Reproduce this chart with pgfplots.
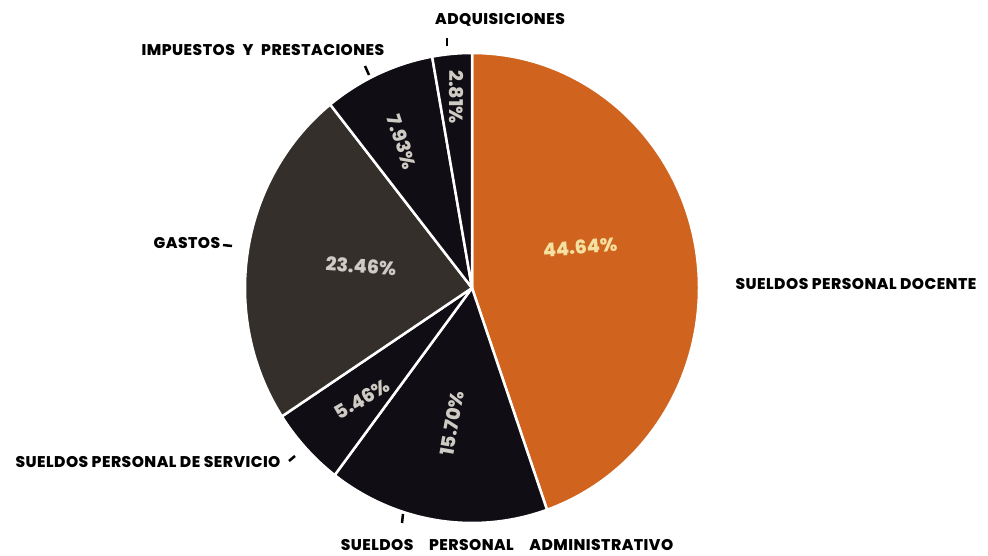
\documentclass[border=0pt]{standalone}
\usepackage{pgfplots}
\pgfplotsset{compat=1.18}
\usepackage{fontspec}
\setmainfont{Poppins}[BoldFont={Poppins ExtraBold}]
\definecolor{orng}{RGB}{208,100,30}
\definecolor{gast}{RGB}{52,47,43}
\definecolor{blk}{RGB}{16,13,20}
\definecolor{cream}{RGB}{244,224,160}
\definecolor{lgray}{RGB}{205,203,195}
% shares (percent), clockwise from 12 o'clock
\def\pA{44.64}\def\pB{15.70}\def\pC{5.46}\def\pD{23.46}\def\pE{7.93}\def\pF{2.81}
\pgfmathsetmacro\angA{90}
\pgfmathsetmacro\angB{\angA-3.6*\pA}
\pgfmathsetmacro\angC{\angB-3.6*\pB}
\pgfmathsetmacro\angD{\angC-3.6*\pC}
\pgfmathsetmacro\angE{\angD-3.6*\pD}
\pgfmathsetmacro\angF{\angE-3.6*\pE}
\pgfmathsetmacro\angG{\angF-3.6*\pF}
\def\cx{472}\def\cy{-288}\def\rx{227}\def\ry{235}
\newcommand\slice[3]{\fill[#3, draw=white, line width=2.5pt, line join=round]
  (axis cs:\cx,\cy) -- (axis cs:{\cx+\rx*cos(#1)},{\cy+\ry*sin(#1)})
  arc[start angle=#1, end angle=#2, x radius=\rx, y radius=\ry] -- cycle;}
\newcommand\lab{\fontsize{15.5}{18}\selectfont\bfseries\addfontfeatures{LetterSpace=3}}
\newcommand\pct{\fontsize{19}{21}\selectfont\bfseries}
\begin{document}
\begin{tikzpicture}
\begin{axis}[x=1pt, y=1pt, xmin=0, xmax=988, ymin=-556, ymax=0,
  hide axis, clip=false, scale only axis]
\path (axis cs:0,0) rectangle (axis cs:988,-556);
\slice{\angA}{\angB}{orng}
\slice{\angB}{\angC}{blk}
\slice{\angC}{\angD}{blk}
\slice{\angD}{\angE}{gast}
\slice{\angE}{\angF}{blk}
\slice{\angF}{\angG}{blk}
% percentages
\node[cream, rotate=5, inner sep=0pt] at (axis cs:580,-247) {\pct 44.64\%};
\node[lgray, rotate=80, inner sep=0pt] at (axis cs:452,-423) {\pct 15.70\%};
\node[lgray, rotate=30, inner sep=0pt] at (axis cs:362,-399) {\pct 5.46\%};
\node[lgray, rotate=-4, inner sep=0pt] at (axis cs:361,-266) {\pct 23.46\%};
\node[lgray, rotate=-72, inner sep=0pt] at (axis cs:402,-142) {\pct 7.93\%};
\node[lgray, rotate=-90, inner sep=0pt] at (axis cs:456,-97) {\pct 2.81\%};
% category labels
\node at (axis cs:500,-20) {\lab ADQUISICIONES};
\node at (axis cs:263,-50) {\lab IMPUESTOS\enspace Y\enspace PRESTACIONES};
\node at (axis cs:187,-243) {\lab GASTOS};
\node at (axis cs:148,-462) {\lab SUELDOS PERSONAL DE SERVICIO};
\node at (axis cs:507,-545) {\lab SUELDOS\quad PERSONAL\quad ADMINISTRATIVO};
\node at (axis cs:856,-284) {\lab SUELDOS PERSONAL DOCENTE};
% leader ticks
\draw[black, line width=2.5pt] (axis cs:447,-38) -- (axis cs:447,-46);
\draw[black, line width=2.5pt] (axis cs:365,-66) -- (axis cs:369,-75);
\draw[black, line width=2.5pt] (axis cs:223,-245) -- (axis cs:232,-246);
\draw[black, line width=2.5pt] (axis cs:289,-461) -- (axis cs:295,-456);
\draw[black, line width=2.5pt] (axis cs:403,-514) -- (axis cs:402,-523);
\end{axis}
\end{tikzpicture}
\end{document}
